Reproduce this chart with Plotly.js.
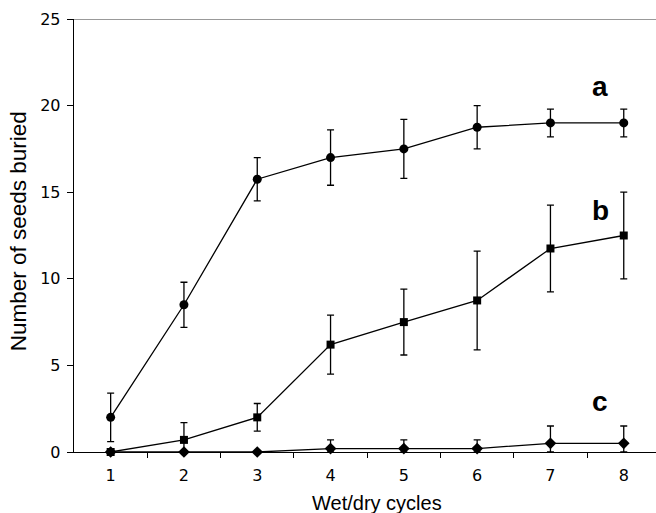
<!DOCTYPE html>
<html>
<head>
<meta charset="utf-8">
<script src="https://cdn.plot.ly/plotly-3.0.1.min.js"></script>
<style>html,body{margin:0;padding:0;background:#fff;overflow:hidden}#chart{width:656px;height:513px}</style>
</head>
<body>
<div id="chart"></div>
<script>
const cycles = [1, 2, 3, 4, 5, 6, 7, 8];
const seriesA = [2, 8.5, 15.75, 17, 17.5, 18.75, 19, 19];
const errA = [1.4, 1.3, 1.25, 1.6, 1.7, 1.25, 0.8, 0.8];
const seriesB = [0, 0.7, 2, 6.2, 7.5, 8.75, 11.75, 12.5];
const errB = [0, 1.0, 0.8, 1.7, 1.9, 2.85, 2.5, 2.5];
const seriesC = [0, 0, 0, 0.2, 0.2, 0.2, 0.5, 0.5];
const errC = [0, 0, 0, 0.5, 0.5, 0.5, 1.0, 1.0];
const yTicks = [0, 5, 10, 15, 20, 25];
const groupLabels = ['a', 'b', 'c'];
const labelY = [21.1, 13.95, 2.9];
const labelX = 7.68;

function mk(y, err, symbol, size) {
  return {
    x: cycles, y: y, type: 'scatter', mode: 'lines+markers', cliponaxis: false,
    line: {color: '#000', width: 1.3},
    marker: {symbol: symbol, size: size, color: '#000'},
    error_y: {type: 'data', symmetric: false, array: err,
      arrayminus: err.map((e, i) => Math.min(e, y[i])),
      color: '#000', thickness: 1.3, width: 3.5},
    showlegend: false, hoverinfo: 'x+y'
  };
}
const traces = [
  mk(seriesA, errA, 'circle', 9),
  mk(seriesB, errB, 'square', 8),
  mk(seriesC, errC, 'diamond', 9)
];
const font = {family: '"DejaVu Sans", Verdana, sans-serif', size: 16, color: '#000'};
const xTitleFont = {family: '"Liberation Sans", Arial, sans-serif', size: 20, color: '#000'};
const yTitleFont = {family: '"Liberation Sans", Arial, sans-serif', size: 22.5, color: '#000'};
const layout = {
  width: 656, height: 513,
  margin: {l: 74, r: 0, t: 19, b: 61},
  paper_bgcolor: '#fff', plot_bgcolor: '#fff',
  showlegend: false,
  xaxis: {
    range: [0.5, 8.44], tickvals: cycles, ticktext: cycles.map(String),
    ticks: '', ticklabelstandoff: 8, showgrid: false, zeroline: false,
    showline: true, linecolor: '#000', linewidth: 1.3,
    tickfont: font
  },
  xaxis2: {
    overlaying: 'x', matches: 'x', range: [0.5, 8.44],
    tickvals: [1.5, 2.5, 3.5, 4.5, 5.5, 6.5, 7.5], showticklabels: false,
    ticks: 'outside', ticklen: 5, tickwidth: 1, tickcolor: '#000',
    showgrid: false, zeroline: false, showline: false
  },
  yaxis: {
    range: [0, 25], tickvals: yTicks, ticks: 'outside', ticklen: 6, tickwidth: 1, tickcolor: '#000',
    ticklabelstandoff: 3,
    showgrid: false, zeroline: false, showline: true, linecolor: '#000', linewidth: 1.3,
    tickfont: font
  },
  shapes: [
    {type: 'line', xref: 'paper', yref: 'y', x0: 0, x1: 1, y0: 25, y1: 25, line: {color: '#777', width: 1.5}}
  ],
  annotations: groupLabels.map((t, i) => ({
    text: '<b>' + t + '</b>', x: labelX, y: labelY[i], xref: 'x', yref: 'y',
    showarrow: false, font: {family: '"Liberation Sans", Arial, sans-serif', size: 28, color: '#000'}
  })).concat([
    {text: 'Wet/dry cycles', xref: 'paper', yref: 'paper', x: 0.5206, y: -0.118,
     xanchor: 'center', yanchor: 'middle', showarrow: false, font: xTitleFont},
    {text: 'Number of seeds buried', xref: 'paper', yref: 'paper', x: -0.094, y: 0.5104,
     xanchor: 'center', yanchor: 'middle', textangle: -90, showarrow: false, font: yTitleFont}
  ])
};
traces.push({x: [1], y: [0], xaxis: 'x2', yaxis: 'y', type: 'scatter', mode: 'markers', marker: {opacity: 0}, showlegend: false, hoverinfo: 'skip'});
Plotly.newPlot('chart', traces, layout, {displayModeBar: false, staticPlot: true});
</script>
</body>
</html>
